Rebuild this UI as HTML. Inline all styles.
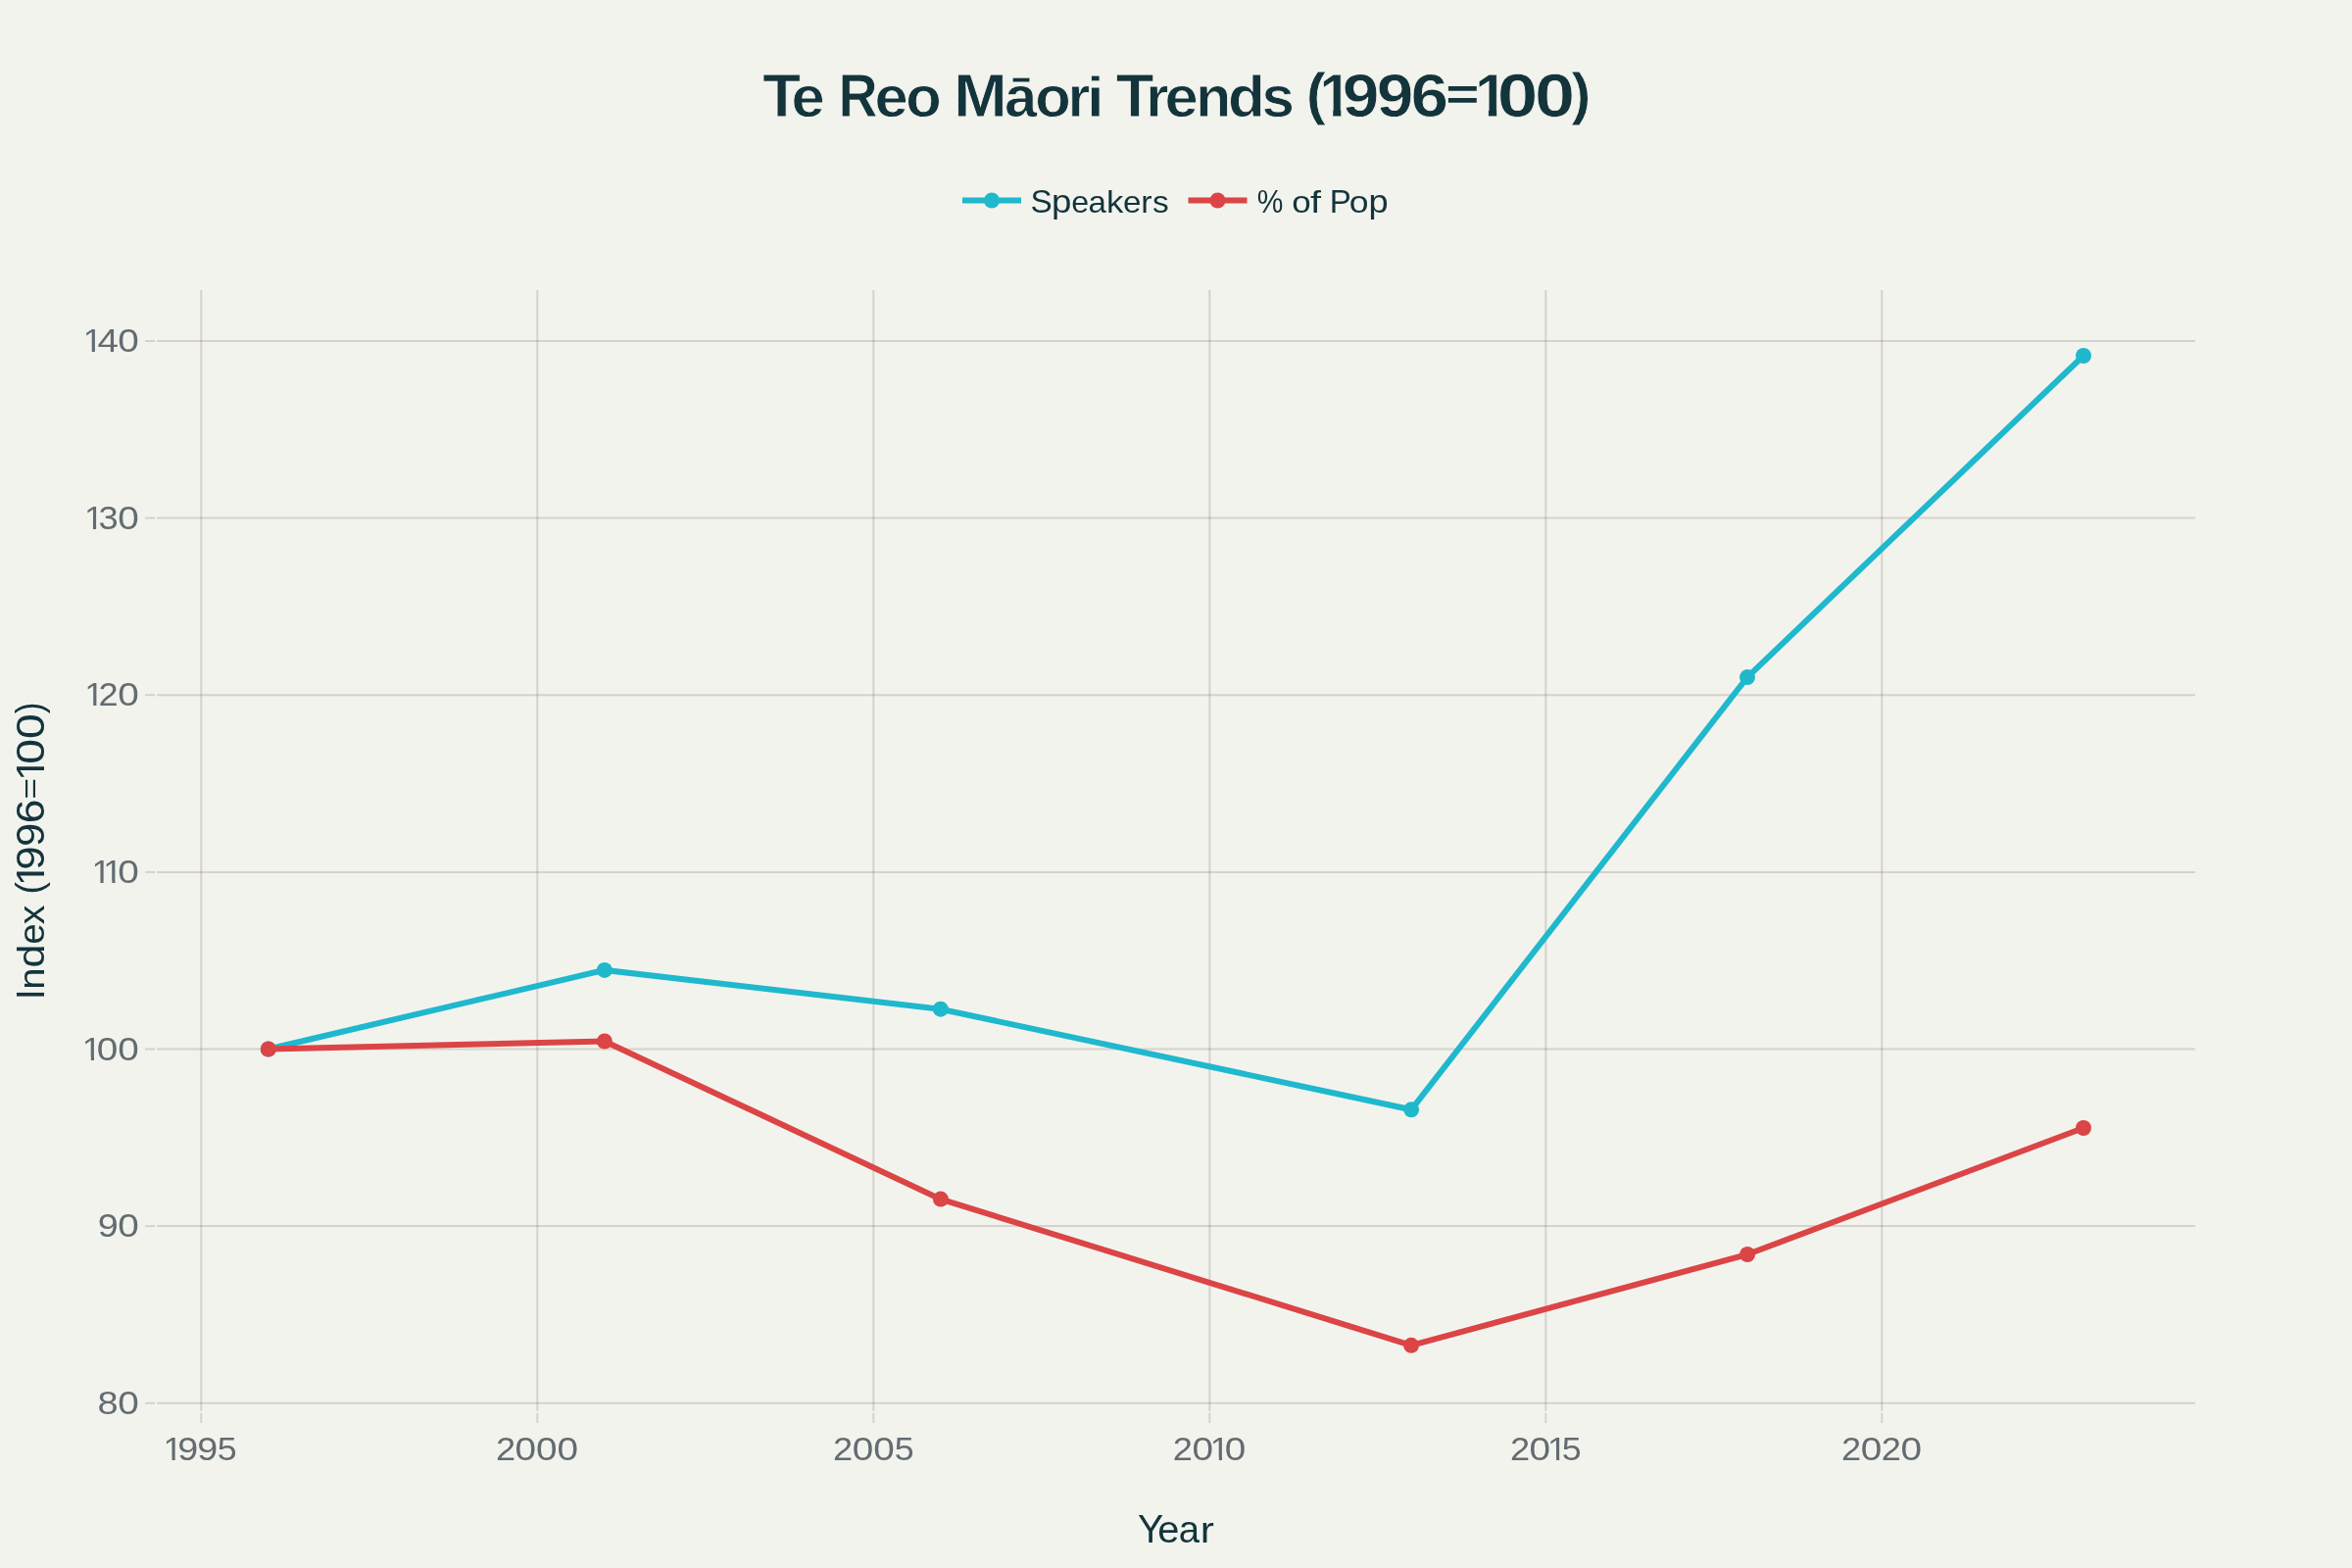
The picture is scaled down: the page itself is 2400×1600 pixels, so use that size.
<!DOCTYPE html>
<html><head><meta charset="utf-8"><title>Te Reo Māori Trends</title>
<style>html,body{margin:0;padding:0;background:#F3F3EE;}body{width:2400px;height:1600px;overflow:hidden;font-family:"Liberation Sans",sans-serif;}</style></head>
<body>
<svg width="2400" height="1600" viewBox="0 0 2400 1600" style="display:block;will-change:transform" font-family="'Liberation Sans', sans-serif">
<rect width="2400" height="1600" fill="#F3F3EE"/>
<defs><clipPath id="c1b61_5"><rect x="0" y="-45.04" width="23.39" height="37.37"/><rect x="13.75" y="-8.18" width="9.64" height="1.65"/><rect x="14.35" y="-6.53" width="8.44" height="8.53"/></clipPath><clipPath id="c1r33_4"><rect x="0" y="-24.46" width="11.95" height="20.57"/><rect x="7.80" y="-4.40" width="4.15" height="1.65"/><rect x="8.40" y="-2.75" width="2.95" height="4.75"/></clipPath><clipPath id="c1r40_5"><rect x="0" y="-29.66" width="14.36" height="25.24"/><rect x="9.58" y="-4.93" width="4.78" height="1.65"/><rect x="10.18" y="-3.28" width="3.58" height="5.28"/></clipPath></defs>
<g stroke="rgba(94,82,64,0.2)" stroke-width="2">
<line x1="205.30" x2="205.30" y1="296" y2="1440"/><line x1="205.30" x2="205.30" y1="1442" y2="1452"/>
<line x1="548.30" x2="548.30" y1="296" y2="1440"/><line x1="548.30" x2="548.30" y1="1442" y2="1452"/>
<line x1="891.30" x2="891.30" y1="296" y2="1440"/><line x1="891.30" x2="891.30" y1="1442" y2="1452"/>
<line x1="1234.30" x2="1234.30" y1="296" y2="1440"/><line x1="1234.30" x2="1234.30" y1="1442" y2="1452"/>
<line x1="1577.30" x2="1577.30" y1="296" y2="1440"/><line x1="1577.30" x2="1577.30" y1="1442" y2="1452"/>
<line x1="1920.30" x2="1920.30" y1="296" y2="1440"/><line x1="1920.30" x2="1920.30" y1="1442" y2="1452"/>
<line x1="160" x2="2240" y1="348.00" y2="348.00"/><line x1="148" x2="158" y1="348.00" y2="348.00"/>
<line x1="160" x2="2240" y1="528.60" y2="528.60"/><line x1="148" x2="158" y1="528.60" y2="528.60"/>
<line x1="160" x2="2240" y1="709.20" y2="709.20"/><line x1="148" x2="158" y1="709.20" y2="709.20"/>
<line x1="160" x2="2240" y1="889.90" y2="889.90"/><line x1="148" x2="158" y1="889.90" y2="889.90"/>
<line x1="160" x2="2240" y1="1070.50" y2="1070.50"/><line x1="148" x2="158" y1="1070.50" y2="1070.50"/>
<line x1="160" x2="2240" y1="1251.10" y2="1251.10"/><line x1="148" x2="158" y1="1251.10" y2="1251.10"/>
<line x1="160" x2="2240" y1="1431.80" y2="1431.80"/><line x1="148" x2="158" y1="1431.80" y2="1431.80"/>
</g>
<path d="M273.80,1070.50L616.90,989.90L959.80,1029.70L1440.10,1132.30L1783.00,691.10L2126.00,363.00" fill="none" stroke="#1FB8CD" stroke-width="6" stroke-linejoin="miter" stroke-miterlimit="2"/>
<g fill="#1FB8CD"><circle cx="273.80" cy="1070.50" r="8"/><circle cx="616.90" cy="989.90" r="8"/><circle cx="959.80" cy="1029.70" r="8"/><circle cx="1440.10" cy="1132.30" r="8"/><circle cx="1783.00" cy="691.10" r="8"/><circle cx="2126.00" cy="363.00" r="8"/></g>
<path d="M273.80,1070.50L616.90,1062.50L959.90,1223.60L1440.05,1372.80L1783.10,1280.00L2126.00,1151.00" fill="none" stroke="#DB4545" stroke-width="6" stroke-linejoin="miter" stroke-miterlimit="2"/>
<g fill="#DB4545"><circle cx="273.80" cy="1070.50" r="8"/><circle cx="616.90" cy="1062.50" r="8"/><circle cx="959.90" cy="1223.60" r="8"/><circle cx="1440.05" cy="1372.80" r="8"/><circle cx="1783.10" cy="1280.00" r="8"/><circle cx="2126.00" cy="1151.00" r="8"/></g>
<line x1="982" x2="1042" y1="204.5" y2="204.5" stroke="#1FB8CD" stroke-width="6"/><circle cx="1012" cy="204.5" r="8" fill="#1FB8CD"/>
<line x1="1212.5" x2="1272.5" y1="204.5" y2="204.5" stroke="#DB4545" stroke-width="6"/><circle cx="1242.5" cy="204.5" r="8" fill="#DB4545"/>
<g><text transform="translate(1051.49,216.88) scale(0.9986,0.9895)" font-size="33.4" fill="#13343B">S</text><text transform="translate(1073.04,217.19) scale(1.0985,0.9684)" font-size="33.4" fill="#13343B">p</text><text transform="translate(1093.13,216.89) scale(0.9635,0.9509)" font-size="33.4" fill="#13343B">e</text><text transform="translate(1110.59,216.89) scale(0.9909,0.9509)" font-size="33.4" fill="#13343B">a</text><text transform="translate(1128.96,216.80) scale(1.0415,0.9503)" font-size="33.4" fill="#13343B">k</text><text transform="translate(1145.99,216.89) scale(0.9954,0.9509)" font-size="33.4" fill="#13343B">e</text><text transform="translate(1164.34,216.80) scale(1.0180,0.9403)" font-size="33.4" fill="#13343B">r</text><text transform="translate(1176.07,216.89) scale(1.0025,0.9535)" font-size="33.4" fill="#13343B">s</text><text transform="translate(1282.73,216.81) scale(0.8969,0.9927)" font-size="33.4" fill="#13343B">%</text><text transform="translate(1318.23,216.89) scale(1.0463,0.9509)" font-size="33.4" fill="#13343B">o</text><text transform="translate(1337.04,216.80) scale(1.1857,0.9516)" font-size="33.4" fill="#13343B">f</text><text transform="translate(1356.69,216.80) scale(0.9901,0.9879)" font-size="33.4" fill="#13343B">P</text><text transform="translate(1376.81,216.89) scale(1.0653,0.9509)" font-size="33.4" fill="#13343B">o</text><text transform="translate(1396.46,217.19) scale(1.0852,0.9684)" font-size="33.4" fill="#13343B">p</text></g>
<g><text transform="translate(778.29,119.30) scale(1.0300,1.0186)" font-size="61.5" font-weight="bold" stroke="#F3F3EE" stroke-width="0.781" fill="#13343B">T</text><text transform="translate(807.60,119.33) scale(1.0000,0.9557)" font-size="61.5" font-weight="bold" stroke="#F3F3EE" stroke-width="0.818" fill="#13343B">e</text><text transform="translate(855.38,119.30) scale(0.9042,1.0186)" font-size="61.5" font-weight="bold" stroke="#F3F3EE" stroke-width="0.834" fill="#13343B">R</text><text transform="translate(892.60,119.33) scale(1.0000,0.9557)" font-size="61.5" font-weight="bold" stroke="#F3F3EE" stroke-width="0.818" fill="#13343B">e</text><text transform="translate(924.17,119.33) scale(0.9706,0.9557)" font-size="61.5" font-weight="bold" stroke="#F3F3EE" stroke-width="0.831" fill="#13343B">o</text><text transform="translate(973.13,119.30) scale(1.0627,1.0186)" font-size="61.5" font-weight="bold" stroke="#F3F3EE" stroke-width="0.769" fill="#13343B">M</text><text transform="translate(1025.05,119.32) scale(0.9697,0.9648)" font-size="61.5" font-weight="bold" stroke="#F3F3EE" stroke-width="0.827" fill="#13343B">ā</text><text transform="translate(1056.37,119.33) scale(0.9706,0.9557)" font-size="61.5" font-weight="bold" stroke="#F3F3EE" stroke-width="0.831" fill="#13343B">o</text><text transform="translate(1089.69,119.30) scale(0.9394,0.9540)" font-size="61.5" font-weight="bold" stroke="#F3F3EE" stroke-width="0.845" fill="#13343B">r</text><text transform="translate(1109.37,119.30) scale(1.0073,0.9380)" font-size="61.5" font-weight="bold" stroke="#F3F3EE" stroke-width="0.823" fill="#13343B">i</text><text transform="translate(1138.69,119.30) scale(1.0300,1.0186)" font-size="61.5" font-weight="bold" stroke="#F3F3EE" stroke-width="0.781" fill="#13343B">T</text><text transform="translate(1169.16,119.30) scale(0.9711,0.9540)" font-size="61.5" font-weight="bold" stroke="#F3F3EE" stroke-width="0.831" fill="#13343B">r</text><text transform="translate(1188.40,119.33) scale(1.0000,0.9557)" font-size="61.5" font-weight="bold" stroke="#F3F3EE" stroke-width="0.818" fill="#13343B">e</text><text transform="translate(1220.32,119.30) scale(0.9563,0.9540)" font-size="61.5" font-weight="bold" stroke="#F3F3EE" stroke-width="0.838" fill="#13343B">n</text><text transform="translate(1252.96,119.32) scale(1.0068,0.9676)" font-size="61.5" font-weight="bold" stroke="#F3F3EE" stroke-width="0.811" fill="#13343B">d</text><text transform="translate(1287.39,119.33) scale(0.9756,0.9548)" font-size="61.5" font-weight="bold" stroke="#F3F3EE" stroke-width="0.829" fill="#13343B">s</text><text transform="translate(1332.86,116.07) scale(0.9910,0.9664)" font-size="61.5" font-weight="bold" stroke="#F3F3EE" stroke-width="0.817" fill="#13343B">(</text><text transform="translate(1346.60,119.30) scale(0.9522,1.0186)" font-size="61.5" font-weight="bold" stroke="#F3F3EE" stroke-width="0.812" clip-path="url(#c1b61_5)" fill="#13343B">1</text><text transform="translate(1369.65,119.29) scale(1.1011,1.0151)" font-size="61.5" font-weight="bold" stroke="#F3F3EE" stroke-width="0.757" fill="#13343B">9</text><text transform="translate(1404.75,119.29) scale(1.1011,1.0151)" font-size="61.5" font-weight="bold" stroke="#F3F3EE" stroke-width="0.757" fill="#13343B">9</text><text transform="translate(1439.46,119.29) scale(1.1268,1.0151)" font-size="61.5" font-weight="bold" stroke="#F3F3EE" stroke-width="0.748" fill="#13343B">6</text><text transform="translate(1475.41,112.39) scale(0.9371,0.7314)" font-size="61.5" font-weight="bold" fill="#13343B">=</text><text transform="translate(1504.88,119.30) scale(0.9791,1.0186)" font-size="61.5" font-weight="bold" stroke="#F3F3EE" stroke-width="0.801" clip-path="url(#c1b61_5)" fill="#13343B">1</text><text transform="translate(1527.84,119.29) scale(1.2172,1.0151)" font-size="61.5" font-weight="bold" stroke="#F3F3EE" stroke-width="0.720" fill="#13343B">0</text><text transform="translate(1565.97,119.29) scale(1.2035,1.0151)" font-size="61.5" font-weight="bold" stroke="#F3F3EE" stroke-width="0.724" fill="#13343B">0</text><text transform="translate(1603.24,116.07) scale(0.9852,0.9664)" font-size="61.5" font-weight="bold" stroke="#F3F3EE" stroke-width="0.820" fill="#13343B">)</text></g>
<g>
<text transform="translate(84.77,359.00) scale(1.0691,1.0009)" font-size="33.4" clip-path="url(#c1r33_4)" fill="#626C71">1</text><text transform="translate(99.52,359.00) scale(1.1527,1.0009)" font-size="33.4" fill="#626C71">4</text><text transform="translate(120.29,359.02) scale(1.1587,1.0022)" font-size="33.4" fill="#626C71">0</text>
<text transform="translate(85.97,540.00) scale(1.0691,1.0009)" font-size="33.4" clip-path="url(#c1r33_4)" fill="#626C71">1</text><text transform="translate(100.52,540.02) scale(1.0862,1.0022)" font-size="33.4" fill="#626C71">3</text><text transform="translate(120.29,540.02) scale(1.1587,1.0022)" font-size="33.4" fill="#626C71">0</text>
<text transform="translate(86.27,720.00) scale(1.0691,1.0009)" font-size="33.4" clip-path="url(#c1r33_4)" fill="#626C71">1</text><text transform="translate(100.58,720.00) scale(1.0844,1.0012)" font-size="33.4" fill="#626C71">2</text><text transform="translate(120.29,720.02) scale(1.1587,1.0022)" font-size="33.4" fill="#626C71">0</text>
<text transform="translate(93.47,901.00) scale(1.0691,1.0009)" font-size="33.4" clip-path="url(#c1r33_4)" fill="#626C71">1</text><text transform="translate(105.37,901.00) scale(1.0691,1.0009)" font-size="33.4" clip-path="url(#c1r33_4)" fill="#626C71">1</text><text transform="translate(120.29,901.02) scale(1.1587,1.0022)" font-size="33.4" fill="#626C71">0</text>
<text transform="translate(83.87,1082.00) scale(1.0691,1.0009)" font-size="33.4" clip-path="url(#c1r33_4)" fill="#626C71">1</text><text transform="translate(98.79,1082.02) scale(1.1587,1.0022)" font-size="33.4" fill="#626C71">0</text><text transform="translate(120.29,1082.02) scale(1.1587,1.0022)" font-size="33.4" fill="#626C71">0</text>
<text transform="translate(99.73,1262.02) scale(1.1278,1.0022)" font-size="33.4" fill="#626C71">9</text><text transform="translate(120.29,1262.02) scale(1.1587,1.0022)" font-size="33.4" fill="#626C71">0</text>
<text transform="translate(99.60,1443.02) scale(1.1357,1.0022)" font-size="33.4" fill="#626C71">8</text><text transform="translate(120.29,1443.02) scale(1.1587,1.0022)" font-size="33.4" fill="#626C71">0</text>
<text transform="translate(166.57,1490.00) scale(1.0691,1.0009)" font-size="33.4" clip-path="url(#c1r33_4)" fill="#626C71">1</text><text transform="translate(181.13,1490.02) scale(1.1278,1.0022)" font-size="33.4" fill="#626C71">9</text><text transform="translate(201.33,1490.02) scale(1.1278,1.0022)" font-size="33.4" fill="#626C71">9</text><text transform="translate(221.76,1490.02) scale(1.0735,1.0019)" font-size="33.4" fill="#626C71">5</text>
<text transform="translate(505.88,1490.00) scale(1.0844,1.0012)" font-size="33.4" fill="#626C71">2</text><text transform="translate(525.59,1490.02) scale(1.1587,1.0022)" font-size="33.4" fill="#626C71">0</text><text transform="translate(547.09,1490.02) scale(1.1587,1.0022)" font-size="33.4" fill="#626C71">0</text><text transform="translate(568.59,1490.02) scale(1.1587,1.0022)" font-size="33.4" fill="#626C71">0</text>
<text transform="translate(850.08,1490.00) scale(1.0844,1.0012)" font-size="33.4" fill="#626C71">2</text><text transform="translate(869.79,1490.02) scale(1.1587,1.0022)" font-size="33.4" fill="#626C71">0</text><text transform="translate(891.29,1490.02) scale(1.1587,1.0022)" font-size="33.4" fill="#626C71">0</text><text transform="translate(912.66,1490.02) scale(1.0735,1.0019)" font-size="33.4" fill="#626C71">5</text>
<text transform="translate(1196.68,1490.00) scale(1.0844,1.0012)" font-size="33.4" fill="#626C71">2</text><text transform="translate(1216.39,1490.02) scale(1.1587,1.0022)" font-size="33.4" fill="#626C71">0</text><text transform="translate(1234.87,1490.00) scale(1.0691,1.0009)" font-size="33.4" clip-path="url(#c1r33_4)" fill="#626C71">1</text><text transform="translate(1249.79,1490.02) scale(1.1587,1.0022)" font-size="33.4" fill="#626C71">0</text>
<text transform="translate(1540.88,1490.00) scale(1.0844,1.0012)" font-size="33.4" fill="#626C71">2</text><text transform="translate(1560.59,1490.02) scale(1.1587,1.0022)" font-size="33.4" fill="#626C71">0</text><text transform="translate(1579.07,1490.00) scale(1.0691,1.0009)" font-size="33.4" clip-path="url(#c1r33_4)" fill="#626C71">1</text><text transform="translate(1593.86,1490.02) scale(1.0735,1.0019)" font-size="33.4" fill="#626C71">5</text>
<text transform="translate(1879.08,1490.00) scale(1.0844,1.0012)" font-size="33.4" fill="#626C71">2</text><text transform="translate(1898.79,1490.02) scale(1.1587,1.0022)" font-size="33.4" fill="#626C71">0</text><text transform="translate(1919.68,1490.00) scale(1.0844,1.0012)" font-size="33.4" fill="#626C71">2</text><text transform="translate(1939.39,1490.02) scale(1.1587,1.0022)" font-size="33.4" fill="#626C71">0</text>
</g>
<g><text transform="translate(1160.94,1573.80) scale(0.9709,1.0013)" font-size="40.5" fill="#13343B">Y</text><text transform="translate(1181.21,1573.83) scale(0.9840,0.9374)" font-size="40.5" fill="#13343B">e</text><text transform="translate(1202.77,1573.83) scale(0.9469,0.9374)" font-size="40.5" fill="#13343B">a</text><text transform="translate(1224.78,1573.80) scale(1.0469,0.9269)" font-size="40.5" fill="#13343B">r</text></g>
<g><text transform="translate(44.90,1020.16) rotate(-90) scale(0.9796,1.0013)" font-size="40.5" fill="#13343B">I</text><text transform="translate(44.90,1009.66) rotate(-90) scale(0.9881,0.9223)" font-size="40.5" fill="#13343B">n</text><text transform="translate(44.92,987.61) rotate(-90) scale(1.0652,0.9515)" font-size="40.5" fill="#13343B">d</text><text transform="translate(44.93,963.85) rotate(-90) scale(0.9577,0.9284)" font-size="40.5" fill="#13343B">e</text><text transform="translate(44.90,943.14) rotate(-90) scale(0.9711,0.9277)" font-size="40.5" fill="#13343B">x</text><text transform="translate(42.92,912.44) rotate(-90) scale(0.9313,0.9515)" font-size="40.5" fill="#13343B">(</text><text transform="translate(44.90,904.25) rotate(-90) scale(1.0641,0.9977)" font-size="40.5" clip-path="url(#c1r40_5)" fill="#13343B">1</text><text transform="translate(44.91,887.66) rotate(-90) scale(1.0851,0.9939)" font-size="40.5" fill="#13343B">9</text><text transform="translate(44.91,863.94) rotate(-90) scale(1.0744,0.9939)" font-size="40.5" fill="#13343B">9</text><text transform="translate(44.91,840.35) rotate(-90) scale(1.0916,0.9939)" font-size="40.5" fill="#13343B">6</text><text transform="translate(41.01,815.51) rotate(-90) scale(0.9148,0.7509)" font-size="40.5" fill="#13343B">=</text><text transform="translate(44.90,796.81) rotate(-90) scale(1.0539,0.9977)" font-size="40.5" clip-path="url(#c1r40_5)" fill="#13343B">1</text><text transform="translate(44.91,779.81) rotate(-90) scale(1.1467,0.9939)" font-size="40.5" fill="#13343B">0</text><text transform="translate(44.91,754.01) rotate(-90) scale(1.1415,0.9939)" font-size="40.5" fill="#13343B">0</text><text transform="translate(42.92,728.31) rotate(-90) scale(0.8754,0.9515)" font-size="40.5" fill="#13343B">)</text></g>
</svg>
</body></html>
